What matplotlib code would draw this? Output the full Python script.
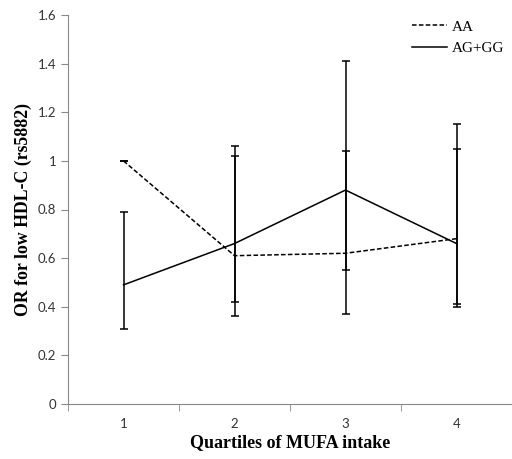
import numpy as np
import matplotlib
matplotlib.use('Agg')
import matplotlib.pyplot as plt

# dados
quartis = [1, 2, 3, 4]
aa = [1.00, 0.61, 0.62, 0.68]
aa_inf = [1.00, 0.36, 0.37, 0.41]
aa_sup = [1.00, 1.02, 1.04, 1.15]
ag = [0.49, 0.66, 0.88, 0.66]
ag_inf = [0.31, 0.42, 0.55, 0.40]
ag_sup = [0.79, 1.06, 1.41, 1.05]

fig = plt.figure(figsize=(5.12, 4.59), dpi=100)
ax = fig.add_axes([68/512, 55/459, 444/512, 389/459])

def barras(v, inf, sup):
    v = np.array(v)
    return [v - np.array(inf), np.array(sup) - v]

ax.errorbar(quartis, aa, yerr=barras(aa, aa_inf, aa_sup), color='black', lw=1.1,
            linestyle=(0, (3, 1.5)), elinewidth=1.1, capsize=3, capthick=1.1, label='AA')
ax.errorbar(quartis, ag, yerr=barras(ag, ag_inf, ag_sup), color='black', lw=1.1,
            elinewidth=1.1, capsize=3, capthick=1.1, label='AG+GG')

ax.set_xlim(0.5, 0.5 + 444/112)
ax.set_ylim(0, 1.6)
ax.set_yticks(np.arange(0, 1.61, 0.2))
ax.set_yticklabels(['0', '0.2', '0.4', '0.6', '0.8', '1', '1.2', '1.4', '1.6'])
ax.set_xticks(quartis)
ax.set_xticks([0.5, 1.5, 2.5, 3.5, 4.5], minor=True)
ax.tick_params(axis='x', which='major', length=0, pad=10)
ax.tick_params(axis='x', which='minor', length=5, color='#888888')
ax.tick_params(axis='y', length=5, color='#888888')
for lb in ax.get_xticklabels() + ax.get_yticklabels():
    lb.set_fontfamily('Lato')
    lb.set_fontsize(9.5)
    lb.set_color('#333333')

for s in ['top', 'right']:
    ax.spines[s].set_visible(False)
for s in ['left', 'bottom']:
    ax.spines[s].set_color('#888888')

ax.set_xlabel('Quartiles of MUFA intake', fontfamily='Liberation Serif',
              fontweight='bold', fontsize=13, labelpad=3)
ax.set_ylabel('OR for low HDL-C (rs5882)', fontfamily='Liberation Serif',
              fontweight='bold', fontsize=12.8, labelpad=4)

h, l = ax.get_legend_handles_labels()
h = [x[0] for x in h]
ax.legend(h, l, loc='upper left', bbox_to_anchor=(0.775, 0.987), frameon=False,
          borderpad=0, borderaxespad=0,
          prop={'family': 'Liberation Serif', 'size': 11}, handlelength=2.3,
          handletextpad=0.33, labelspacing=0.5)

plt.savefig('out.png', dpi=100)
